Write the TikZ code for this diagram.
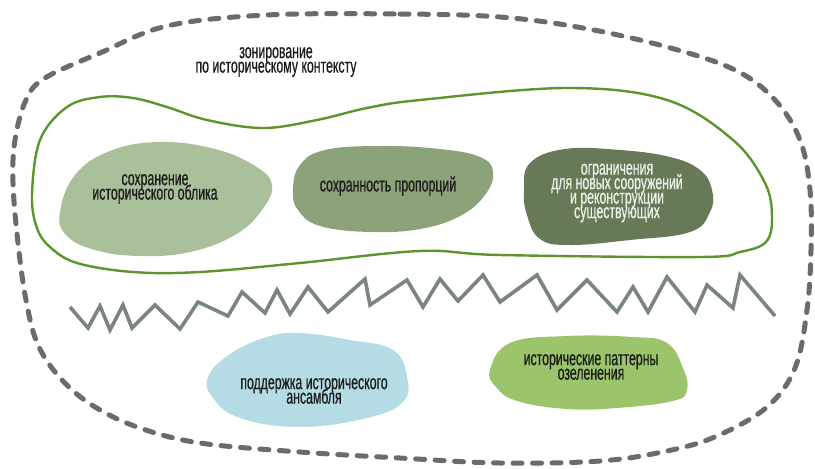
\documentclass[tikz,border=0pt]{standalone}
\usepackage{fontspec}
\setmainfont[FakeStretch=0.6, FakeBold=0.6]{Liberation Sans}
\newcommand\blobfont{\fontsize{20.5}{14.5}\selectfont\lineskiplimit=-30pt}
\definecolor{outlinegrey}{HTML}{6B6B6B}
\definecolor{zonegreen}{HTML}{5A962C}
\definecolor{zigzaggrey}{HTML}{7A8484}
\definecolor{sagelight}{HTML}{AAC09B}
\definecolor{sagemid}{HTML}{8CA278}
\definecolor{sagedark}{HTML}{677957}
\definecolor{paleblue}{HTML}{B5DCE4}
\definecolor{leafgreen}{HTML}{9CC46B}
\definecolor{inkdark}{HTML}{1C1C1C}
\definecolor{inklight}{HTML}{EEF1EA}
\tikzset{
  outerzone/.style={draw=outlinegrey, line width=5pt, line cap=round,
    dash pattern=on 9pt off 10.5pt},
  innerzone/.style={draw=zonegreen, line width=2.4pt},
  zigline/.style={draw=zigzaggrey, line width=3.6pt, line join=miter},
  blob/.style={smooth cycle, tension=0.7},
  label/.style={align=center, font=\blobfont, text=inkdark, inner sep=0pt},
}
\begin{document}
\begin{tikzpicture}[x=1pt, y=-1pt]
\useasboundingbox (0,0) rectangle (815,469);

% outer dashed zone
\draw[outerzone] plot[smooth cycle, tension=0.6] coordinates {
  (267,15) (400,14) (500,17) (583,28) (667,47) (735,70) (775,100)
  (800,140) (810,190) (811,250) (807,310) (795,368) (767,407)
  (717,436) (667,451) (600,461) (500,463) (400,458) (300,452)
  (200,443) (140,428) (95,407) (62,380) (38,345) (26,300) (18,243)
  (13,183) (15,140) (26,100) (45,78) (100,53) (167,26)};

% inner green zone
\draw[innerzone] plot[smooth cycle, tension=0.6] coordinates {
  (32,195) (40,140) (67,107) (100,97) (133,98) (167,107) (207,120)
  (263,128) (317,120) (367,108) (420,100) (567,88) (667,100)
  (733,140) (765,183) (772,217) (766,242) (740,252) (700,257)
  (500,255) (420,251) (300,263) (200,272) (133,272) (77,263)
  (50,247) (37,228)};

% blobs
\fill[sagelight] plot[blob] coordinates {
  (60,212) (75,175) (110,151) (160,142) (215,149) (255,166) (272,185)
  (262,210) (235,235) (190,252) (140,256) (95,250) (66,235)};
\fill[sagemid] plot[blob] coordinates {
  (293,190) (300,165) (325,150) (380,146) (440,149) (480,157) (493,172)
  (485,195) (460,216) (420,229) (370,232) (320,226) (298,210)};
\fill[sagedark] plot[blob] coordinates {
  (524,190) (530,163) (565,149) (620,150) (670,157) (700,170) (712,190)
  (710,212) (690,232) (630,240) (570,245) (540,239) (527,215)};
\fill[paleblue] plot[blob] coordinates {
  (208,377) (230,354) (267,337) (300,333) (350,340) (393,350) (407,377)
  (403,402) (367,418) (300,427) (240,418) (213,398)};
\fill[leafgreen] plot[blob] coordinates {
  (490,370) (510,343) (567,336) (633,337) (667,343) (683,368) (687,390)
  (673,401) (617,408) (567,409) (517,401) (496,387)};

% zigzag divider
\coordinate (zstart) at (70,307);
\coordinate (zend) at (775,316);
\draw[zigline] (zstart)
  -- (88,328) -- (100,306) -- (110,330) -- (123,305) -- (132,328)
  -- (155,305) -- (180,329) -- (198,302) -- (228,316) -- (242,292)
  -- (265,313) -- (277,290) -- (290,314) -- (308,287) -- (328,312)
  -- (365,279) -- (370,305) -- (407,280) -- (423,307) -- (440,279)
  -- (458,301) -- (483,275) -- (500,302) -- (537,275) -- (557,310)
  -- (587,280) -- (617,312) -- (633,287) -- (648,312) -- (667,277)
  -- (695,312) -- (707,285) -- (733,308) -- (740,275) -- (zend);

% labels
\node[label] (title) at (276,62) {зонирование\\по историческому контексту};
\node[label] (look) at (155,189) {сохранение\\исторического облика};
\node[label] (prop) at (388,186) {сохранность пропорций};
\node[label, text=inklight] (limits) at (617,193)
  {ограничения\\для новых сооружений\\и реконструкции\\существующих};
\node[label] (ensemble) at (314,391) {поддержка исторического\\ансамбля};
\node[label] (greenery) at (591,367) {исторические паттерны\\озеленения};
\end{tikzpicture}
\end{document}
